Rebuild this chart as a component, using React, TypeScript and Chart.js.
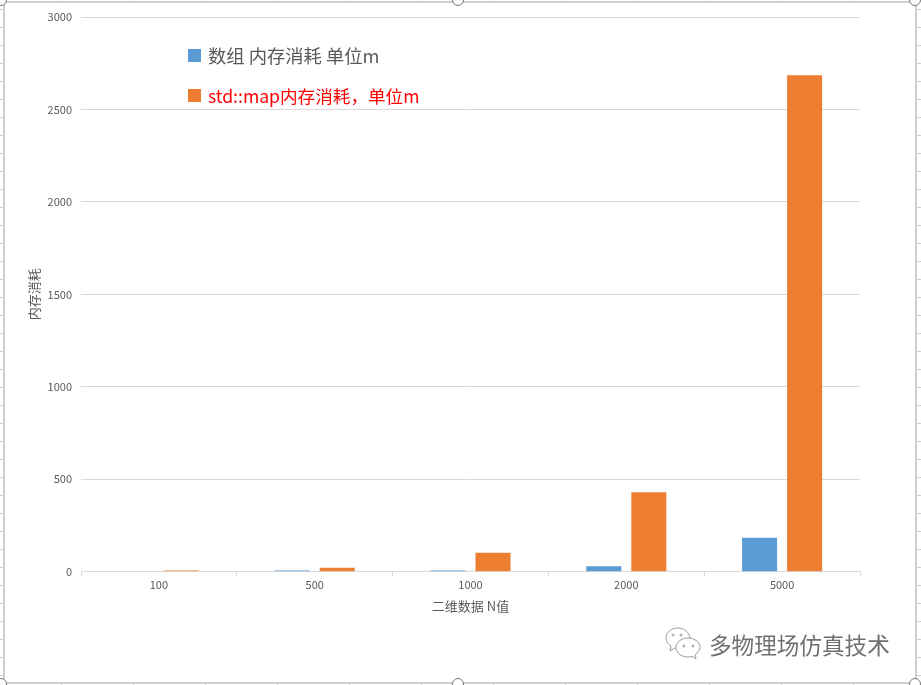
import React, { useEffect, useRef } from "react";
import { Chart, registerables } from "chart.js";

Chart.register(...registerables);

const categories = ["100", "500", "1000", "2000", "5000"];
const arrayMemory = [0, 6, 7, 29, 184];
const mapMemory = [6, 22, 103, 430, 2685];
const arrayLabel = "数组 内存消耗 单位m";
const mapLabel = "std::map内存消耗，单位m";
const xTitle = "二维数据 N值";
const yTitle = "内存消耗";
const watermark = "多物理场仿真技术";

const FONT = '"Noto Sans CJK SC", "Noto Sans", sans-serif';
const BLUE = "#5B9BD5";
const ORANGE = "#ED7D31";
const FRAME = "#ccd0d5";

const legendItem = (top: number, color: string, text: string, textColor: string, size: number) => (
  <div style={{ position: "absolute", left: 188, top, height: 24, display: "flex", alignItems: "center", fontFamily: FONT, fontSize: size, color: textColor, whiteSpace: "pre" }}>
    <span style={{ width: 13, height: 13, background: color, marginRight: 7, display: "inline-block" }} />
    {text}
  </div>
);

const handle = (cx: number, cy: number) => (
  <div style={{ position: "absolute", left: cx - 6, top: cy - 6, width: 12, height: 12, boxSizing: "border-box", borderRadius: "50%", border: "1.5px solid #777", background: "#fff" }} />
);

const hTicks = `repeating-linear-gradient(to bottom, ${FRAME} 0 1px, transparent 1px 18px)`;
const vTicks = `repeating-linear-gradient(to right, ${FRAME} 0 1px, transparent 1px 72px)`;

export default function App() {
  const ref = useRef<HTMLCanvasElement>(null);

  useEffect(() => {
    document.body.style.margin = "0";
    const chart = new Chart(ref.current!, {
      type: "bar",
      data: {
        labels: categories,
        datasets: [
          { label: arrayLabel, data: arrayMemory, backgroundColor: BLUE },
          { label: mapLabel, data: mapMemory, backgroundColor: ORANGE },
        ],
      },
      options: {
        animation: false,
        responsive: false,
        layout: { padding: { left: 26, top: 17, right: 61, bottom: 71.5 } },
        datasets: { bar: { categoryPercentage: 0.578, barPercentage: 0.778 } },
        plugins: { legend: { display: false }, tooltip: { enabled: false } },
        scales: {
          x: {
            grid: { drawOnChartArea: false, drawTicks: true, color: "#d9d9d9", tickLength: 5 },
            border: { color: "#d9d9d9" },
            ticks: { color: "#595959", font: { family: FONT, size: 11 }, padding: 2, maxRotation: 0 },
            title: { display: true, text: xTitle, color: "#595959", font: { family: FONT, size: 13 }, padding: { top: 4, bottom: 0 } },
          },
          y: {
            min: 0,
            max: 3000,
            afterFit: (s: any) => { s.width = 55; },
            grid: { color: "#d9d9d9", drawTicks: false },
            border: { display: false },
            ticks: { stepSize: 500, color: "#595959", font: { family: FONT, size: 11 }, padding: 9, callback: (v: any) => String(v) },
            title: { display: true, text: yTitle, color: "#595959", font: { family: FONT, size: 13 }, padding: 0 },
          },
        },
      },
    });
    return () => chart.destroy();
  }, []);

  return (
    <div style={{ position: "relative", width: 921, height: 685, overflow: "hidden", background: "#fff" }}>
      <canvas ref={ref} width={921} height={685} style={{ display: "block", width: 921, height: 685 }} />
      <div style={{ position: "absolute", left: 3, top: 1, width: 910, height: 679, border: `2px solid ${FRAME}`, pointerEvents: "none" }} />
      <div style={{ position: "absolute", left: 0, top: 9, width: 3, height: 670, backgroundImage: hTicks }} />
      <div style={{ position: "absolute", left: 917, top: 9, width: 4, height: 670, backgroundImage: hTicks }} />
      <div style={{ position: "absolute", left: 61, top: 0, width: 850, height: 1, backgroundImage: vTicks }} />
      <div style={{ position: "absolute", left: 61, top: 684, width: 850, height: 1, backgroundImage: vTicks }} />
      {legendItem(43, BLUE, arrayLabel, "#595959", 18.3)}
      {legendItem(83, ORANGE, mapLabel, "#ff0000", 17.6)}
      <svg width="38" height="34" viewBox="0 0 38 34" style={{ position: "absolute", left: 664, top: 626 }} fill="#fff" stroke="#999" strokeWidth="1">
        <path d="M14 2C7 2 2 6.5 2 12c0 3.500 2 6 5 8l-1 5 5-3c2 .5 4 .5 6 .2C24 21 27 17 26 12 25 6 20 2 14 2z" />
        <path d="M24 12c-7 0-12 4.500-12 9.500S17 31 24 31c1.500 0 3-.2 4-.6l4 2.600-.8-4.400C34 26.500 36 24 36 21.500 36 16.500 31 12 24 12z" />
        <circle cx="9" cy="9" r="1" /><circle cx="17" cy="9" r="1" />
        <circle cx="20" cy="20" r="1" /><circle cx="29" cy="20" r="1" />
      </svg>
      <div style={{ position: "absolute", left: 709, top: 628, fontFamily: FONT, fontSize: 22.6, lineHeight: "34px", color: "#707070", whiteSpace: "pre" }}>{watermark}</div>
      {handle(458, 0)}
      {handle(458, 684)}
      {handle(1, 0)}
      {handle(915, 0)}
      {handle(1, 684)}
      {handle(915, 684)}
    </div>
  );
}
